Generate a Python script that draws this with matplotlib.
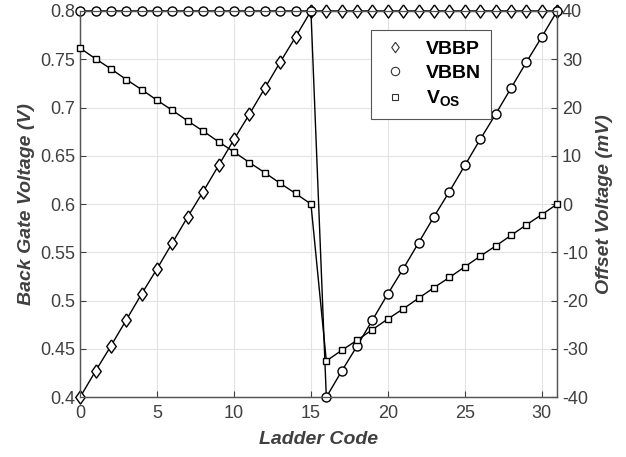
import matplotlib
matplotlib.use("Agg")
from matplotlib import pyplot as plt
from matplotlib.lines import Line2D

plt.rcParams['font.family'] = ['Liberation Sans', 'DejaVu Sans']
plt.rcParams['mathtext.fontset'] = 'custom'
plt.rcParams['mathtext.rm'] = 'Liberation Sans:bold'
plt.rcParams['mathtext.bf'] = 'Liberation Sans:bold'
plt.rcParams['axes.unicode_minus'] = False

# ladder codes
codes = list(range(32))

# back gate voltages (V)
vbbp = [0.400, 0.427, 0.453, 0.480, 0.507, 0.533, 0.560, 0.587,
        0.613, 0.640, 0.667, 0.693, 0.720, 0.747, 0.773, 0.800,
        0.800, 0.800, 0.800, 0.800, 0.800, 0.800, 0.800, 0.800,
        0.800, 0.800, 0.800, 0.800, 0.800, 0.800, 0.800, 0.800]
vbbn = [0.800, 0.800, 0.800, 0.800, 0.800, 0.800, 0.800, 0.800,
        0.800, 0.800, 0.800, 0.800, 0.800, 0.800, 0.800, 0.800,
        0.400, 0.427, 0.453, 0.480, 0.507, 0.533, 0.560, 0.587,
        0.613, 0.640, 0.667, 0.693, 0.720, 0.747, 0.773, 0.800]

# offset voltage (mV)
vos = [32.3, 30.1, 28.0, 25.8, 23.7, 21.5, 19.4, 17.2,
       15.1, 12.9, 10.8, 8.6, 6.5, 4.3, 2.2, 0.0,
       -32.5, -30.3, -28.2, -26.0, -23.8, -21.7, -19.5, -17.3,
       -15.2, -13.0, -10.8, -8.7, -6.5, -4.3, -2.2, 0.0]

xticks = [0, 5, 10, 15, 20, 25, 30]
lticks = [0.4, 0.45, 0.5, 0.55, 0.6, 0.65, 0.7, 0.75, 0.8]
rticks = [-40, -30, -20, -10, 0, 10, 20, 30, 40]

# matlab-like diamond
dia = [(0, 1), (0.72, 0), (0, -1), (-0.72, 0), (0, 1)]

txt = '#404040'
fig = plt.figure(figsize=(6.26, 4.57), dpi=100)
ax = fig.add_axes([0.128, 0.131, 0.762, 0.845])
ax2 = ax.twinx()

ax.plot(codes, vbbp, c='k', lw=1, marker=dia, ms=9.5, mfc='white', mec='k', mew=1,
        zorder=3, clip_on=False)
ax.plot(codes, vbbn, c='k', lw=1, marker='o', ms=6.5, mfc='white', mec='k', mew=1,
        zorder=3, clip_on=False)
ax2.plot(codes, vos, c='k', lw=1, marker='s', ms=5, mfc='white', mec='k', mew=1,
         zorder=3, clip_on=False)

ax.set_xlim(0, 31)
ax.set_ylim(0.4, 0.8)
ax2.set_ylim(-40, 40)
ax.set_xticks(xticks)
ax.set_yticks(lticks)
ax.set_yticklabels(['0.4', '0.45', '0.5', '0.55', '0.6', '0.65', '0.7', '0.75', '0.8'])
ax2.set_yticks(rticks)
ax.grid(True, color='#e3e3e3', lw=0.8)
ax.set_axisbelow(True)

for a in (ax, ax2):
    a.tick_params(direction='in', length=4, labelsize=13, colors=txt, width=0.8)
    for s in a.spines.values():
        s.set_color('#555555')
        s.set_linewidth(0.9)
ax.tick_params(axis='x', pad=6)

ax.set_xlabel('Ladder Code', fontsize=14, fontweight='bold', style='italic', color=txt, labelpad=6)
ax.set_ylabel('Back Gate Voltage (V)', fontsize=14, fontweight='bold', style='italic', color=txt, labelpad=4)
ax2.set_ylabel('Offset Voltage (mV)', fontsize=14, fontweight='bold', style='italic', color=txt,
               rotation=90, labelpad=6)

handles = [
    Line2D([], [], ls='none', marker=dia, ms=7.5, mfc='white', mec='#333333', mew=0.8),
    Line2D([], [], ls='none', marker='o', ms=6, mfc='white', mec='#333333', mew=0.8),
    Line2D([], [], ls='none', marker='s', ms=5, mfc='white', mec='#333333', mew=0.8),
]
leg = ax2.legend(handles, ['VBBP', 'VBBN', r'V$_{\mathrm{OS}}$'], loc='upper left',
                 bbox_to_anchor=(0.59, 0.975), fancybox=False, framealpha=1,
                 prop={'weight': 'bold', 'size': 14}, handletextpad=0.9,
                 borderpad=0.5, labelspacing=0.35, handlelength=1.4)
leg.get_frame().set_edgecolor('#555555')
leg.get_frame().set_linewidth(0.8)

fig.savefig('out.png', dpi=100)
